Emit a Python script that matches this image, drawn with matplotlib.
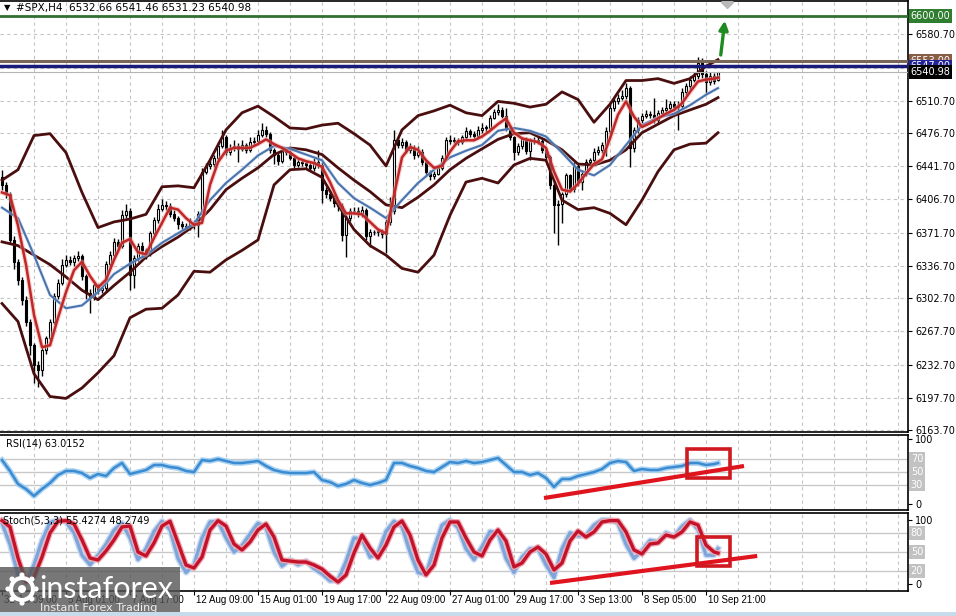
import matplotlib
matplotlib.use("Agg")
import matplotlib.pyplot as plt
from matplotlib.patches import Rectangle, Circle
from matplotlib.transforms import blended_transform_factory
import numpy as np

# ---- candles (#SPX H4) ----
opens = [
    6430, 6422, 6412, 6364, 6341, 6322, 6301, 6278, 6253, 6232,
    6227, 6248, 6261, 6278, 6305, 6319, 6338, 6343, 6341, 6345,
    6347, 6326, 6308, 6304, 6316, 6311, 6313, 6339, 6348, 6362,
    6358, 6390, 6394, 6327, 6345, 6358, 6353, 6349, 6371, 6385,
    6397, 6401, 6400, 6391, 6387, 6381, 6379, 6377, 6383, 6380,
    6391, 6436, 6442, 6444, 6450, 6463, 6472, 6457, 6461, 6463,
    6460, 6464, 6459, 6467, 6468, 6475, 6480, 6476, 6459, 6454,
    6447, 6459, 6457, 6450, 6443, 6446, 6445, 6443, 6440, 6446,
    6443, 6417, 6412, 6408, 6403, 6400, 6369, 6387, 6395, 6394,
    6391, 6396, 6368, 6372, 6372, 6373, 6370, 6383, 6394, 6469,
    6464, 6467, 6459, 6461, 6453, 6457, 6446, 6436, 6431, 6434,
    6440, 6450, 6469, 6468, 6469, 6467, 6472, 6479, 6476, 6474,
    6480, 6482, 6482, 6493, 6499, 6501, 6495, 6482, 6472, 6457,
    6463, 6470, 6458, 6468, 6469, 6468, 6459, 6451, 6422, 6401,
    6402, 6412, 6432, 6418, 6442, 6425, 6434, 6446, 6448, 6457,
    6459, 6464, 6479, 6503, 6510, 6514, 6516, 6524, 6461, 6480,
    6490, 6495, 6497, 6496, 6490, 6498, 6501, 6503, 6507, 6504,
    6505, 6520, 6526, 6533, 6537, 6550, 6539, 6530, 6537, 6532.66]
highs = [
    6438, 6425, 6414, 6368, 6344, 6325, 6305, 6281, 6255, 6236,
    6251, 6263, 6281, 6308, 6323, 6344, 6348, 6347, 6348, 6352,
    6349, 6328, 6312, 6319, 6318, 6316, 6342, 6352, 6366, 6365,
    6396, 6402, 6398, 6348, 6361, 6362, 6356, 6373, 6388, 6402,
    6407, 6405, 6403, 6396, 6389, 6384, 6382, 6387, 6385, 6394,
    6440, 6445, 6448, 6453, 6467, 6480, 6475, 6465, 6469, 6466,
    6469, 6466, 6473, 6472, 6480, 6487, 6484, 6478, 6461, 6457,
    6463, 6462, 6459, 6453, 6449, 6449, 6447, 6446, 6450, 6459,
    6446, 6420, 6414, 6411, 6405, 6403, 6390, 6398, 6399, 6399,
    6400, 6398, 6376, 6375, 6377, 6376, 6386, 6409, 6480, 6474,
    6471, 6469, 6466, 6464, 6463, 6460, 6448, 6438, 6437, 6443,
    6453, 6473, 6475, 6472, 6471, 6475, 6483, 6481, 6479, 6484,
    6487, 6485, 6496, 6502, 6507, 6504, 6503, 6484, 6474, 6466,
    6473, 6473, 6471, 6472, 6473, 6470, 6461, 6453, 6425, 6406,
    6415, 6435, 6434, 6446, 6444, 6437, 6449, 6450, 6461, 6463,
    6467, 6483, 6508, 6514, 6518, 6522, 6529, 6526, 6483, 6494,
    6498, 6501, 6500, 6514, 6501, 6504, 6513, 6510, 6510, 6510,
    6524, 6529, 6537, 6541, 6557, 6556, 6542, 6541, 6540, 6541.46]
lows = [
    6417, 6408, 6360, 6333, 6317, 6295, 6273, 6243, 6213, 6209,
    6221, 6244, 6258, 6275, 6302, 6316, 6335, 6338, 6337, 6342,
    6322, 6302, 6287, 6301, 6307, 6308, 6309, 6336, 6345, 6354,
    6355, 6387, 6311, 6313, 6342, 6347, 6344, 6347, 6369, 6382,
    6394, 6396, 6388, 6384, 6376, 6376, 6373, 6374, 6376, 6367,
    6387, 6433, 6439, 6441, 6447, 6461, 6453, 6454, 6458, 6446,
    6458, 6456, 6457, 6464, 6466, 6472, 6472, 6456, 6444, 6443,
    6445, 6453, 6448, 6440, 6441, 6442, 6440, 6437, 6437, 6440,
    6403, 6408, 6405, 6399, 6395, 6363, 6346, 6384, 6391, 6388,
    6388, 6364, 6357, 6369, 6368, 6366, 6350, 6380, 6391, 6461,
    6461, 6456, 6456, 6449, 6451, 6443, 6432, 6427, 6428, 6432,
    6438, 6448, 6465, 6466, 6464, 6465, 6470, 6473, 6471, 6471,
    6477, 6478, 6480, 6491, 6496, 6492, 6479, 6469, 6448, 6453,
    6460, 6455, 6448, 6465, 6465, 6456, 6448, 6418, 6371, 6359,
    6382, 6409, 6414, 6415, 6421, 6417, 6431, 6443, 6445, 6454,
    6456, 6452, 6476, 6500, 6507, 6511, 6513, 6441, 6457, 6477,
    6487, 6492, 6493, 6487, 6487, 6495, 6498, 6500, 6501, 6480,
    6502, 6517, 6523, 6530, 6534, 6535, 6519, 6527, 6528, 6531.23]
closes = [
    6422, 6412, 6364, 6341, 6322, 6301, 6278, 6253, 6232, 6227,
    6248, 6261, 6278, 6305, 6319, 6338, 6343, 6341, 6345, 6347,
    6326, 6308, 6304, 6316, 6311, 6313, 6339, 6348, 6362, 6358,
    6390, 6394, 6327, 6345, 6358, 6353, 6349, 6371, 6385, 6397,
    6401, 6400, 6391, 6387, 6381, 6379, 6377, 6383, 6380, 6391,
    6436, 6442, 6444, 6450, 6463, 6472, 6457, 6461, 6463, 6460,
    6464, 6459, 6467, 6468, 6475, 6480, 6476, 6459, 6454, 6447,
    6459, 6457, 6450, 6443, 6446, 6445, 6443, 6440, 6446, 6443,
    6417, 6412, 6408, 6403, 6400, 6369, 6387, 6395, 6394, 6391,
    6396, 6368, 6372, 6372, 6373, 6370, 6383, 6394, 6469, 6464,
    6467, 6459, 6461, 6453, 6457, 6446, 6436, 6431, 6434, 6440,
    6450, 6469, 6468, 6469, 6467, 6472, 6479, 6476, 6474, 6480,
    6482, 6482, 6493, 6499, 6501, 6495, 6482, 6472, 6457, 6463,
    6470, 6458, 6468, 6469, 6468, 6459, 6451, 6422, 6401, 6402,
    6412, 6432, 6418, 6442, 6425, 6434, 6446, 6448, 6457, 6459,
    6464, 6479, 6503, 6510, 6514, 6516, 6524, 6461, 6480, 6490,
    6495, 6497, 6496, 6490, 6498, 6501, 6503, 6507, 6504, 6505,
    6520, 6526, 6533, 6537, 6550, 6539, 6530, 6537, 6531, 6540.98]

# ---- indicator lines, sampled every 4 bars (bands, slow MA) ----
band_idx = list(range(0, 180, 4)) + [179]
bb_upper = [
    6427, 6438, 6474, 6476, 6456, 6414, 6377, 6383, 6386, 6391,
    6420, 6421, 6419, 6448, 6480, 6498, 6505, 6494, 6482, 6481,
    6485, 6487, 6476, 6464, 6442, 6480, 6495, 6500, 6506, 6498,
    6495, 6510, 6508, 6504, 6507, 6520, 6512, 6488, 6507, 6532,
    6532, 6534, 6529, 6534, 6547, 6554]
bb_middle = [
    6362, 6358, 6348, 6338, 6325, 6311, 6301, 6316, 6330, 6346,
    6357, 6367, 6379, 6396, 6417, 6429, 6440, 6454, 6461, 6459,
    6454, 6440, 6427, 6415, 6401, 6398, 6409, 6422, 6438, 6450,
    6460, 6470, 6476, 6477, 6469, 6459, 6444, 6443, 6448, 6459,
    6477, 6486, 6495, 6501, 6507, 6514]
bb_lower = [
    6297, 6278, 6223, 6199, 6197, 6208, 6224, 6242, 6282, 6291,
    6292, 6306, 6331, 6330, 6343, 6353, 6364, 6422, 6438, 6439,
    6430, 6401, 6375, 6358, 6348, 6334, 6330, 6348, 6390, 6425,
    6429, 6424, 6443, 6450, 6448, 6406, 6396, 6398, 6392, 6380,
    6406, 6436, 6459, 6465, 6466, 6477]
ma_slow = [
    6398, 6387, 6348, 6306, 6292, 6295, 6309, 6328, 6339, 6348,
    6361, 6371, 6381, 6406, 6424, 6438, 6453, 6463, 6460, 6454,
    6448, 6424, 6408, 6398, 6387, 6406, 6424, 6438, 6451, 6458,
    6464, 6479, 6482, 6479, 6473, 6456, 6438, 6432, 6443, 6464,
    6485, 6493, 6497, 6506, 6517, 6524]

# ---- sampled every 2 bars (fast MA, RSI, stochastic) ----
fine_idx = list(range(0, 180, 2)) + [179]
ma_fast = [
    6414, 6411, 6379, 6338, 6285, 6251, 6253, 6282, 6309, 6332,
    6341, 6326, 6314, 6322, 6343, 6361, 6365, 6351, 6349, 6366,
    6382, 6398, 6396, 6387, 6380, 6382, 6422, 6446, 6458, 6461,
    6461, 6461, 6465, 6470, 6465, 6461, 6456, 6450, 6447, 6445,
    6441, 6425, 6406, 6392, 6392, 6391, 6383, 6375, 6371, 6411,
    6451, 6462, 6459, 6448, 6440, 6442, 6457, 6468, 6469, 6469,
    6473, 6479, 6486, 6492, 6477, 6471, 6469, 6467, 6461, 6436,
    6417, 6415, 6423, 6434, 6444, 6449, 6471, 6496, 6510, 6494,
    6483, 6487, 6492, 6497, 6501, 6508, 6520, 6531, 6533, 6534,
    6535]
rsi = [
    67.7, 50.8, 30.8, 23.1, 12.3, 23.1, 32.3, 44.6, 50.8, 50.8,
    47.7, 40.0, 46.2, 43.1, 55.4, 63.1, 46.2, 49.2, 52.3, 60.0,
    60.0, 56.9, 55.4, 50.8, 49.2, 67.7, 66.2, 69.2, 66.2, 63.1,
    63.1, 64.6, 66.2, 58.5, 52.3, 49.2, 47.7, 47.7, 47.7, 49.2,
    36.9, 33.8, 27.7, 30.8, 36.9, 32.3, 29.2, 32.3, 36.9, 63.1,
    63.1, 58.5, 55.4, 50.8, 49.2, 56.9, 64.6, 63.1, 66.2, 63.1,
    64.6, 67.7, 70.8, 60.0, 49.2, 49.2, 44.6, 47.7, 40.0, 26.2,
    38.5, 38.5, 43.1, 46.2, 49.2, 53.8, 63.1, 66.2, 64.6, 50.8,
    53.8, 52.3, 52.3, 55.4, 56.9, 58.5, 63.1, 63.1, 60.0, 61.5,
    63.0152]
stoch_main = [
    95, 62, 15, 2, 30, 68, 96, 100, 97, 80,
    45, 30, 45, 62, 84, 95, 72, 38, 55, 82,
    98, 85, 40, 18, 30, 72, 97, 98, 72, 50,
    60, 78, 95, 88, 50, 28, 38, 30, 36, 24,
    16, 5, 6, 35, 72, 70, 42, 48, 82, 98,
    90, 50, 18, 15, 55, 92, 100, 88, 55, 38,
    58, 82, 80, 40, 18, 42, 55, 55, 30, 10,
    55, 80, 75, 76, 92, 100, 100, 95, 62, 40,
    52, 68, 66, 80, 74, 90, 100, 85, 45, 45,
    55.4274]
stoch_signal = [
    99, 89.1, 40.6, 3.1, 10.9, 42.2, 79.7, 98, 99, 93.8,
    68.8, 40.6, 37.5, 51.6, 68.8, 89.1, 90.6, 50.0, 43.8, 64.1,
    90.6, 98, 64.1, 29.7, 25.0, 42.2, 84.4, 99, 90.6, 62.5,
    53.1, 65.6, 84.4, 93.8, 73.4, 37.5, 35.9, 34.4, 34.4, 29.7,
    23.4, 12.5, 3.1, 14.1, 48.4, 76.6, 56.3, 40.6, 60.9, 89.1,
    98.4, 76.6, 37.5, 14.1, 29.7, 71.9, 96.9, 96.9, 71.9, 50.0,
    43.8, 68.8, 84.4, 67.2, 26.6, 32.8, 50.0, 57.8, 46.9, 21.9,
    32.8, 67.2, 82.8, 73.4, 81.3, 96.9, 99, 99, 81.3, 53.1,
    46.9, 62.5, 64.1, 76.6, 73.4, 81.3, 96.9, 92.2, 60.9, 50.0,
    48.2749]

# ---- axis text ----
price_ticks = [6163.7, 6197.7, 6232.7, 6267.7, 6302.7, 6336.7, 6371.7,
               6406.7, 6441.7, 6476.7, 6510.7, 6545.7, 6580.7]
time_ticks = [0, 16, 32, 48, 64, 80, 96, 112, 128, 144, 160, 176]
time_labels = ["31 Jul 09:00", "5 Aug 01:00", "7 Aug 17:00", "12 Aug 09:00",
               "15 Aug 01:00", "19 Aug 17:00", "22 Aug 09:00", "27 Aug 01:00",
               "29 Aug 17:00", "3 Sep 13:00", "8 Sep 05:00", "10 Sep 21:00"]

# ---- levels and hand-drawn marks ----
target_level = 6600.00
resist_level = 6553.00
pivot_level = 6547.00
last_price = 6540.98
rsi_trend_x, rsi_trend_y = [135.5, 185.5], [9.2, 58.5]
rsi_box = [171.3, 40.0, 182.0, 84.6]
sto_trend_x, sto_trend_y = [137.0, 188.8], [1.6, 43.8]
sto_box = [173.8, 28.1, 182.0, 73.4]

W, H = 956, 616
fig = plt.figure(figsize=(W / 100, H / 100), dpi=100)
fig.patch.set_facecolor("white")


def panel(top, bottom):
    return fig.add_axes([0, 1 - bottom / H, 908 / W, (bottom - top) / H])


ax = panel(1, 432)
ax_rsi = panel(435, 510)
ax_sto = panel(513, 591)

grid_col = "#c4c4c4"
for a in (ax, ax_rsi, ax_sto):
    a.set_xlim(-0.5, 226.5)
    a.spines["left"].set_visible(False)
    for s in ("right", "top", "bottom"):
        a.spines[s].set_linewidth(1.2)
    a.yaxis.tick_right()
    a.tick_params(axis="y", length=3, width=0.8, pad=2, labelsize=7)
    a.tick_params(axis="x", length=0, labelbottom=False)
    for gx in range(8, 227, 8):
        a.axvline(gx, color=grid_col, lw=0.8, ls=(0, (3, 3)), zorder=0)

# ---- main panel ----
ax.set_ylim(6161.6, 6615.8)
ax.set_yticks(price_ticks, [f"{t:.2f}" if t != 6545.7 else "" for t in price_ticks])
for t in price_ticks:
    ax.axhline(t, color=grid_col, lw=0.8, ls=(0, (3, 3)), zorder=0)

bar_idx = np.arange(len(closes))
o, h, l, c = map(np.array, (opens, highs, lows, closes))
ax.vlines(bar_idx, l, h, color="black", lw=1.0, zorder=2)
body_lo = np.minimum(o, c)
body_h = np.maximum(np.abs(c - o), 0.7)
ax.bar(bar_idx, body_h, bottom=body_lo, width=0.72,
       color=np.where(c >= o, "white", "black"), edgecolor="black",
       linewidth=0.8, zorder=3)

band_col = "#4a0e0e"
for band in (bb_upper, bb_middle, bb_lower):
    ax.plot(band_idx, band, color=band_col, lw=2.0, zorder=4)
ax.plot(band_idx, ma_slow, color="#c6d4ea", lw=2.6, alpha=0.5, zorder=4)
ax.plot(band_idx, ma_slow, color="#4a74ae", lw=1.5, zorder=5)
ax.plot(fine_idx, ma_fast, color="#f2a6a6", lw=3.4, alpha=0.55, zorder=5)
ax.plot(fine_idx, ma_fast, color="#c02828", lw=1.8, zorder=6)

ax.axhline(target_level, color="#2f6f2f", lw=2.0, zorder=6)
ax.axhline(resist_level, color="#7a6656", lw=2.2, zorder=6)
ax.axhline(pivot_level, color="#1a1a78", lw=2.5, zorder=6)
ax.axhline(last_price, color="#b4b4b4", lw=0.8, zorder=6)

ytr = blended_transform_factory(ax.transAxes, ax.transData)


def price_box(axis, tr, val, txt, fc, tc="white"):
    axis.text(1.003, val, txt, transform=tr, ha="left", va="center", fontsize=7,
              color=tc, clip_on=False, zorder=20,
              bbox=dict(boxstyle="square,pad=0.18", fc=fc, ec="none"))


# the three level tags stack on top of each other, as on the terminal
price_box(ax, ytr, target_level, "6600.00", "#2f7d2f")
price_box(ax, ytr, resist_level, "6553.00", "#8a5e46")
price_box(ax, ytr, pivot_level, "6547.00", "#23239a")
price_box(ax, ytr, last_price, "6540.98", "black")

ax.annotate("", xy=(180.8, 6598), xytext=(179.6, 6556),
            arrowprops=dict(arrowstyle="-|>", color="#1f8a1f", lw=2.4,
                            mutation_scale=13), zorder=8)
ax.plot([181.2], [6614.5], marker="D", ms=6, color="#b8b8b8", zorder=8)

fig.text(4 / W, 1 - 8 / H, "\u25bc", fontsize=6, va="center")
fig.text(16 / W, 1 - 8 / H, "#SPX,H4  6532.66 6541.46 6531.23 6540.98",
         fontsize=7.5, va="center")

# ---- RSI panel ----
ax_rsi.set_ylim(-9.2, 106.2)
ax_rsi.set_yticks([0, 100], ["0", "100"])
rtr = blended_transform_factory(ax_rsi.transAxes, ax_rsi.transData)
for lv in (30, 50, 70):
    ax_rsi.axhline(lv, color="#c8c8c8", lw=1.0, zorder=1)
    price_box(ax_rsi, rtr, lv, str(lv), "#c2c2c2")
ax_rsi.plot(fine_idx, rsi, color="#a9d2f2", lw=4.0, zorder=3)
ax_rsi.plot(fine_idx, rsi, color="#3b8bd0", lw=1.8, zorder=4)
ax_rsi.plot(rsi_trend_x, rsi_trend_y, color="#e0141e", lw=3.0, zorder=6,
            solid_capstyle="butt")
ax_rsi.add_patch(Rectangle((rsi_box[0], rsi_box[1]), rsi_box[2] - rsi_box[0],
                           rsi_box[3] - rsi_box[1], fill=False, ec="#d01820",
                           lw=2.6, zorder=6))
ax_rsi.text(0.007, 0.89, "RSI(14) 63.0152", transform=ax_rsi.transAxes,
            fontsize=7, va="center")

# ---- Stochastic panel ----
ax_sto.set_ylim(-10.9, 110.9)
ax_sto.set_yticks([0, 100], ["0", "100"])
str_ = blended_transform_factory(ax_sto.transAxes, ax_sto.transData)
for lv in (20, 50, 80):
    ax_sto.axhline(lv, color="#c8c8c8", lw=1.0, zorder=1)
    price_box(ax_sto, str_, lv, str(lv), "#c2c2c2")
ax_sto.plot(fine_idx, stoch_main, color="#c9dbf2", lw=4.5, zorder=3)
ax_sto.plot(fine_idx, stoch_main, color="#7ea4d8", lw=2.4, zorder=4)
ax_sto.plot(fine_idx, stoch_signal, color="#f0a8b0", lw=4.2, zorder=5)
ax_sto.plot(fine_idx, stoch_signal, color="#c3122c", lw=2.4, zorder=6)
ax_sto.plot(sto_trend_x, sto_trend_y, color="#e0141e", lw=3.0, zorder=7,
            solid_capstyle="butt")
ax_sto.add_patch(Rectangle((sto_box[0], sto_box[1]), sto_box[2] - sto_box[0],
                           sto_box[3] - sto_box[1], fill=False, ec="#d01820",
                           lw=2.6, zorder=7))
ax_sto.text(0.003, 0.9, "Stoch(5,3,3) 55.4274 48.2749", transform=ax_sto.transAxes,
            fontsize=7, va="center", zorder=8)

ax_sto.set_xticks(time_ticks)
ax_sto.tick_params(axis="x", length=3, width=0.8, direction="out")
ttr = blended_transform_factory(ax_sto.transData, fig.transFigure)
for t, lab in zip(time_ticks, time_labels):
    ax_sto.text(t + 0.5, 1 - 600 / H, lab, transform=ttr, fontsize=7,
                family="Liberation Sans", ha="left", va="center", clip_on=False)

# ---- logo overlay & bottom strip ----
fig.patches.append(Rectangle((0, 0), 1, 4 / H, transform=fig.transFigure,
                             fc="#c8dbea", ec="none"))
logo = fig.add_axes([0, 0, 180 / W, 49 / H])
logo.set_xlim(0, 180)
logo.set_ylim(49, 0)
logo.axis("off")
logo.add_patch(Rectangle((0, 0), 180, 49, fc="#555555", alpha=0.8, ec="none"))
logo.add_patch(Circle((22, 22), 11, fill=False, ec="white", lw=3))
for ang in np.linspace(0, 2 * np.pi, 8, endpoint=False):
    logo.add_patch(Circle((22 + 14 * np.cos(ang), 22 + 14 * np.sin(ang)), 2.6,
                          fc="white", ec="none"))
logo.add_patch(Circle((22, 22), 4, fc="white", ec="none"))
logo.text(39, 22, "instaforex", fontsize=22, color="white", va="center",
          ha="left", family="Lato")
logo.text(40, 41, "Instant Forex Trading", fontsize=8, color="#eeeeee",
          va="center", ha="left")

fig.savefig("out.png", dpi=100, facecolor="white")
